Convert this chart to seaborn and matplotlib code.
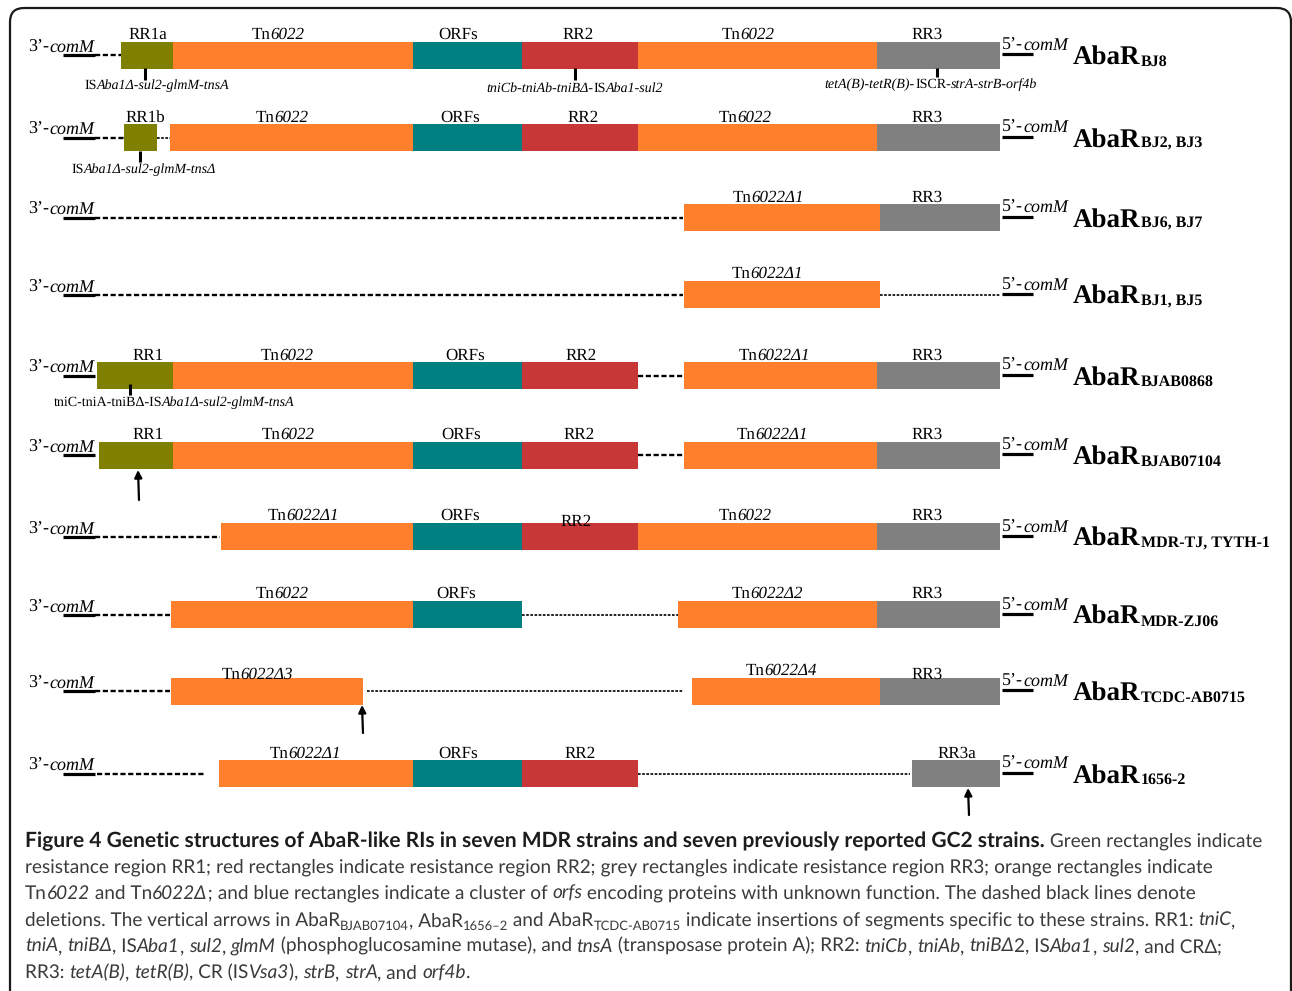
import matplotlib
matplotlib.use("Agg")
import matplotlib.pyplot as plt
import seaborn as sns
from matplotlib.font_manager import FontProperties
from matplotlib.patches import FancyBboxPatch

# ------------------------------------------------------------------ data
strains = ["BJ8", "BJ2, BJ3", "BJ6, BJ7", "BJ1, BJ5", "BJAB0868", "BJAB07104",
           "MDR-TJ, TYTH-1", "MDR-ZJ06", "TCDC-AB0715", "1656-2"]

# blocks of each island: (region, start, end) on a common coordinate axis
bj8_blocks = [("RR1", 121, 173), ("Tn", 173, 413), ("ORF", 413, 522),
              ("RR2", 522, 638), ("Tn", 638, 877), ("RR3", 877, 1000)]
bj2_blocks = [("RR1", 124, 157), ("Tn", 170, 413), ("ORF", 413, 522),
              ("RR2", 522, 638), ("Tn", 638, 877), ("RR3", 877, 1000)]
bj6_blocks = [("Tn", 684, 880), ("RR3", 880, 1000)]
bj1_blocks = [("Tn", 684, 880)]
bjab0868_blocks = [("RR1", 97, 173), ("Tn", 173, 413), ("ORF", 413, 522),
                   ("RR2", 522, 638), ("Tn", 684, 877), ("RR3", 877, 1000)]
bjab07104_blocks = [("RR1", 99, 173), ("Tn", 173, 413), ("ORF", 413, 522),
                    ("RR2", 522, 638), ("Tn", 684, 877), ("RR3", 877, 1000)]
mdrtj_blocks = [("Tn", 221, 413), ("ORF", 413, 522), ("RR2", 522, 638),
                ("Tn", 638, 877), ("RR3", 877, 1000)]
mdrzj_blocks = [("Tn", 171, 413), ("ORF", 413, 522), ("Tn", 678, 877),
                ("RR3", 877, 1000)]
tcdc_blocks = [("Tn", 171, 363), ("Tn", 692, 880), ("RR3", 880, 1000)]
a1656_blocks = [("Tn", 219, 413), ("ORF", 413, 522), ("RR2", 522, 638),
                ("RR3", 912, 1000)]

# deleted stretches: (start, end, kind)
bj8_gaps = [(95, 121, "dash")]
bj2_gaps = [(95, 124, "dash"), (157, 170, "dot")]
bj6_gaps = [(95, 683, "dash")]
bj1_gaps = [(95, 683, "dash"), (880, 1000, "dot")]
bjab0868_gaps = [(638, 684, "dash")]
bjab07104_gaps = [(638, 684, "dash")]
mdrtj_gaps = [(95, 220, "dash")]
mdrzj_gaps = [(95, 170, "dash"), (522, 678, "dot")]
tcdc_gaps = [(95, 170, "dash"), (367, 683, "dot")]
a1656_gaps = [(97, 205, "dash"), (638, 910, "dot")]

# names written above the blocks: (centre, name, nudge)
bj8_names = [(148, "RR1a", 0), (278, "Tn6022", 0), (458, "ORFs", 0),
             (578, "RR2", 0), (748, "Tn6022", 0), (927, "RR3", 0)]
bj2_names = [(145, "RR1b", 0), (282, "Tn6022", 0), (460, "ORFs", 0),
             (583, "RR2", 0), (745, "Tn6022", 0), (927, "RR3", 0)]
bj6_names = [(768, "Tn6022Δ1", 0), (927, "RR3", 0)]
bj1_names = [(767, "Tn6022Δ1", 0)]
bjab0868_names = [(148, "RR1", 0), (287, "Tn6022", 0), (465, "ORFs", 0),
                  (581, "RR2", 0), (774, "Tn6022Δ1", 0), (927, "RR3", 0)]
bjab07104_names = [(148, "RR1", 0), (288, "Tn6022", 0), (461, "ORFs", 0),
                   (579, "RR2", 0), (772, "Tn6022Δ1", 0), (927, "RR3", 0)]
mdrtj_names = [(303, "Tn6022Δ1", 0), (460, "ORFs", 0), (576, "RR2", 5),
               (745, "Tn6022", 0), (927, "RR3", 0)]
mdrzj_names = [(282, "Tn6022", 0), (456, "ORFs", 0), (767, "Tn6022Δ2", 0),
               (927, "RR3", 0)]
tcdc_names = [(257, "Tn6022Δ3", 4), (781, "Tn6022Δ4", 0), (927, "RR3", 4)]
a1656_names = [(305, "Tn6022Δ1", 0), (458, "ORFs", 0), (580, "RR2", 0),
               (957, "RR3a", 0)]

# gene content notes under some blocks: (row, tick x, tick top, tick bottom,
# text centre, text baseline, pieces)
gene_notes = [
    (0, 145, 68, 80, 157, 89, [("IS", "r"), ("Aba1Δ-sul2-glmM-tnsA", "i")]),
    (0, 575, 68, 80, 575, 92, [("tniCb-tniAb-tniBΔ-", "i"), ("IS", "r"),
                               ("Aba1-sul2", "i")]),
    (0, 937, 68, 77, 931, 88, [("tetA(B)-tetR(B)-", "i"), ("ISCR-", "r"),
                               ("strA-strB-orf4b", "i")]),
    (1, 140, 151, 162, 144, 173, [("IS", "r"), ("Aba1Δ-sul2-glmM-tnsΔ", "i")]),
    (4, 130, 384, 395, 174, 406, [("tniC-tniA-tniBΔ-IS", "r"),
                                  ("Aba1Δ-sul2-glmM-tnsA", "i")]),
]

# insertion arrows: (x, tail y, head y)
insertions = [(138, 500, 470), (362, 733, 705), (968, 815, 788)]

all_blocks = [bj8_blocks, bj2_blocks, bj6_blocks, bj1_blocks, bjab0868_blocks,
              bjab07104_blocks, mdrtj_blocks, mdrzj_blocks, tcdc_blocks, a1656_blocks]
all_gaps = [bj8_gaps, bj2_gaps, bj6_gaps, bj1_gaps, bjab0868_gaps,
            bjab07104_gaps, mdrtj_gaps, mdrzj_gaps, tcdc_gaps, a1656_gaps]
all_names = [bj8_names, bj2_names, bj6_names, bj1_names, bjab0868_names,
             bjab07104_names, mdrtj_names, mdrzj_names, tcdc_names, a1656_names]

# caption, one list of (text, style) per printed line
# styles: r upright, i italic, b bold, s subscript
caption_lines = [
    [("Figure 4 Genetic structures of AbaR-like RIs in seven MDR strains and seven "
      "previously reported GC2 strains.", "b"), (" Green rectangles indicate", "r")],
    [("resistance region RR1; red rectangles indicate resistance region RR2; grey "
      "rectangles indicate resistance region RR3; orange rectangles indicate", "r")],
    [("Tn", "r"), ("6022", "i"), (" and Tn", "r"), ("6022Δ", "i"),
     ("; and blue rectangles indicate a cluster of ", "r"), ("orfs", "i"),
     (" encoding proteins with unknown function. The dashed black lines denote", "r")],
    [("deletions. The vertical arrows in AbaR", "r"), ("BJAB07104", "s"),
     (", AbaR", "r"), ("1656–2", "s"), (" and AbaR", "r"), ("TCDC-AB0715", "s"),
     (" indicate insertions of segments specific to these strains. RR1: ", "r"),
     ("tniC", "i"), (",", "r")],
    [("tniA", "i"), (", ", "r"), ("tniBΔ", "i"), (", IS", "r"), ("Aba1", "i"),
     (", ", "r"), ("sul2", "i"), (", ", "r"), ("glmM", "i"),
     (" (phosphoglucosamine mutase), and ", "r"), ("tnsA", "i"),
     (" (transposase protein A); RR2: ", "r"), ("tniCb", "i"), (", ", "r"),
     ("tniAb", "i"), (", ", "r"), ("tniBΔ", "i"), ("2, IS", "r"), ("Aba1", "i"),
     (", ", "r"), ("sul2", "i"), (", and CRΔ;", "r")],
    [("RR3: ", "r"), ("tetA(B)", "i"), (", ", "r"), ("tetR(B)", "i"),
     (", CR (IS", "r"), ("Vsa3", "i"), ("), ", "r"), ("strB", "i"), (", ", "r"),
     ("strA", "i"), (", and ", "r"), ("orf4b", "i"), (".", "r")],
]

# ------------------------------------------------------------------ style
sns.set_theme(style="white")
SERIF = ["Liberation Serif", "DejaVu Serif"]
SANS = ["Lato", "DejaVu Sans"]
plt.rcParams["font.family"] = SERIF
# unhinted glyphs keep measured advances and drawn positions in step
plt.rcParams["text.hinting"] = "no_hinting"
plt.rcParams["text.hinting_factor"] = 1

region_colors = dict(zip(["RR1", "Tn", "ORF", "RR2", "RR3"],
                         sns.color_palette(["#808000", "#fe7f2c", "#008080",
                                            "#c83737", "#808080"])))

row_y = [55, 137.5, 217.5, 294.5, 375.5, 455, 536.5, 614.5, 691, 773.5]
BAR_H = 27

fig = plt.figure(figsize=(12.92, 9.91), dpi=100)
ax = fig.add_axes([0, 0, 1, 1])
ax.set_xlim(0, 1292)   # one data unit per pixel
ax.set_ylim(991, 0)
ax.axis("off")
renderer = fig.canvas.get_renderer()


def advance(txt, fp):
    """Pen advance of a string in pixels (bars keep blanks and bearings)."""
    w_full = renderer.get_text_width_height_descent("|" + txt + "|", fp, False)[0]
    w_bars = renderer.get_text_width_height_descent("||", fp, False)[0]
    return w_full - w_bars


def rich(x, y, pieces, family, size, ha="left", color="black",
         bold_color=None, sub_scale=0.68, sub_drop=4.5):
    """Typeset mixed-style pieces on one baseline (data y)."""
    items = []
    for p in pieces:
        txt, st = p[0], p[1]
        sz = p[2] if len(p) > 2 else size
        dy = p[3] if len(p) > 3 else 0
        if "s" in st:
            sz, dy = sz * sub_scale, sub_drop
        fp = FontProperties(family=family, size=sz,
                            style="italic" if "i" in st else "normal",
                            weight="bold" if "b" in st else "normal")
        col = bold_color if ("b" in st and bold_color) else color
        items.append((txt, fp, dy, col, advance(txt, fp)))
    total = sum(it[4] for it in items)
    pen = x - total / 2 if ha == "center" else x
    for txt, fp, dy, col, w in items:
        ax.text(pen, round(y + dy), txt, fontproperties=fp, color=col,
                ha="left", va="baseline")
        pen += w


def name_pieces(name):
    if name.startswith("Tn"):
        return [("Tn", "r"), (name[2:], "i")]
    return [(name, "r")]


# ------------------------------------------------------------------ rows
for i, y in enumerate(row_y):
    blocks = all_blocks[i]
    ax.barh([y] * len(blocks), [e - s for _, s, e in blocks],
            left=[s for _, s, _ in blocks], height=BAR_H,
            color=[region_colors[r] for r, _, _ in blocks], edgecolor="none")

    for s, e, kind in all_gaps[i]:
        if kind == "dash":
            ax.plot([s, e], [y, y], color="black", lw=1.7,
                    ls=(0, (2.2, 1.1)), dash_capstyle="butt")
        else:
            ax.plot([s, e], [y, y], color="black", lw=1.2,
                    ls=(0, (1.6, 0.9)), dash_capstyle="butt")

    for cx, name, dy in all_names[i]:
        rich(cx, y - BAR_H / 2 - 2.5 + dy, name_pieces(name), SERIF, 12.5,
             ha="center")

    # comM flanks
    rich(28, y - 3, [("3’-", "r"), ("comM", "i")], SERIF, 13)
    ax.plot([63, 95], [y, y], color="black", lw=2.3, solid_capstyle="butt")
    rich(1002, y - 5, [("5’-", "r"), ("comM", "i")], SERIF, 13)
    ax.plot([1002, 1033], [y - 1, y - 1], color="black", lw=2.3,
            solid_capstyle="butt")

    # island name with its strain subscript
    rich(1073, y + 10, [("AbaR", "b", 19.5), (strains[i], "b", 11.5, 1)],
         SERIF, 19.5)

for row, tx, t0, t1, cx, by, pieces in gene_notes:
    ax.plot([tx, tx], [t0, t1], color="black", lw=2.2, solid_capstyle="butt")
    rich(cx, by, pieces, SERIF, 10, ha="center")

for x, tail, head_y in insertions:
    ax.annotate("", xy=(x, head_y), xytext=(x + 1, tail),
                arrowprops=dict(arrowstyle="-|>", color="black", lw=1.6,
                                mutation_scale=11, shrinkA=0, shrinkB=0))

# ------------------------------------------------------------------ caption
caption_base = [847, 873, 899, 926, 952, 978]
for base, pieces in zip(caption_base, caption_lines):
    sized = [(t, s, 15) if s == "b" else (t, s) for t, s in pieces]
    rich(25, base, sized, SANS, 14, color="#3a3a3a", bold_color="#1c1c1c")

# panel frame
frame = FancyBboxPatch((10, 8), 1281, 1010,
                       boxstyle="round,pad=0,rounding_size=14",
                       fill=False, lw=1.6, ec="#1a1a1a", clip_on=False)
ax.add_patch(frame)

fig.savefig("out.png", dpi=100)
